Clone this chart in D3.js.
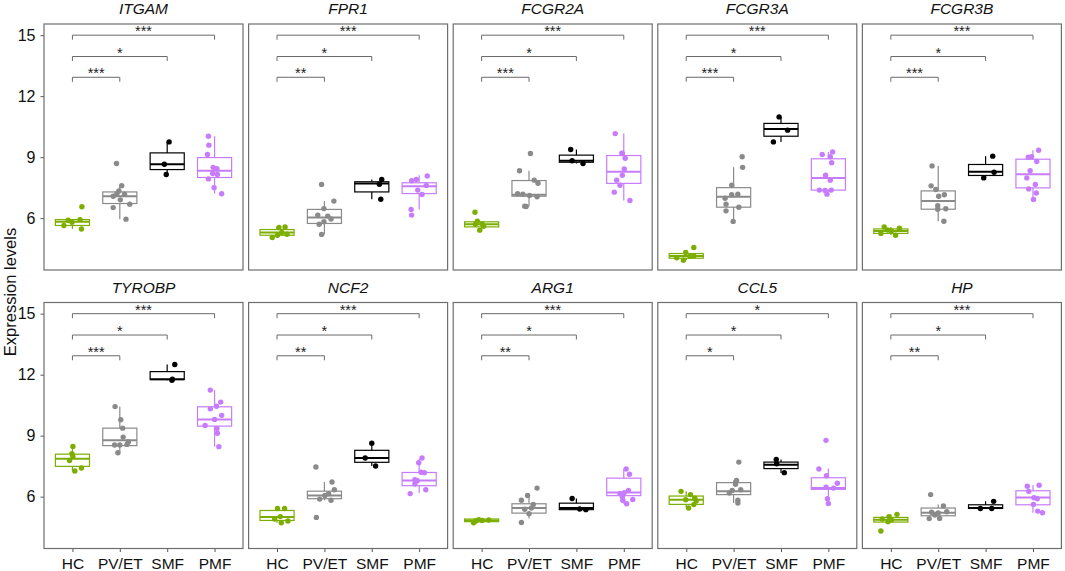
<!DOCTYPE html>
<html><head><meta charset="utf-8">
<script src="https://cdn.jsdelivr.net/npm/d3@7/dist/d3.min.js"></script>
<style>body{margin:0;background:#fff}svg{display:block}text{font-family:"Liberation Sans",Arial,Helvetica,sans-serif}</style>
</head><body>
<svg id="chart" width="1065" height="571"></svg>
<script>
// ---------- data ----------
const genes = ["ITGAM","FPR1","FCGR2A","FCGR3A","FCGR3B","TYROBP","NCF2","ARG1","CCL5","HP"];
const groups = ["HC","PV/ET","SMF","PMF"];
const yTicks = [6, 9, 12, 15];
const comparisons = [["HC","PV/ET"],["HC","SMF"],["HC","PMF"]];
const bracketLevels = [12.93, 13.95, 15.0];

// box stats per group: [whisker low, q1, median, q3, whisker high]
const box_ITGAM  = [[5.47,5.64,5.82,5.93,5.93],[5.95,6.72,7.08,7.29,7.6],[8.15,8.39,8.65,9.21,9.75],[7.2,8.0,8.33,8.98,10.03]];
const box_FPR1   = [[5.05,5.16,5.29,5.44,5.57],[5.2,5.74,6.03,6.43,6.84],[6.93,7.29,7.7,7.79,7.9],[6.43,7.21,7.57,7.74,8.11]];
const box_FCGR2A = [[5.41,5.57,5.70,5.82,5.85],[6.59,7.08,7.15,7.85,8.33],[8.69,8.75,8.82,9.1,9.38],[6.87,7.71,8.28,9.08,10.16]];
const box_FCGR3A = [[3.93,4.03,4.14,4.26,4.31],[5.84,6.54,7.05,7.5,8.5],[9.75,10.03,10.38,10.66,10.98],[7.16,7.38,7.98,8.92,9.26]];
const box_FCGR3B = [[5.16,5.25,5.37,5.47,5.57],[5.85,6.44,6.84,7.34,8.57],[7.98,8.1,8.28,8.64,9.05],[6.92,7.49,8.16,8.9,9.34]];
const box_TYROBP = [[7.26,7.49,7.87,8.09,8.47],[8.16,8.51,8.77,9.37,10.43],[11.72,11.76,11.78,12.15,12.5],[8.46,9.47,9.8,10.42,11.24]];
const box_NCF2   = [[4.72,4.83,5.0,5.32,5.42],[5.82,5.9,6.06,6.27,6.72],[7.51,7.69,7.9,8.28,8.63],[6.18,6.54,6.8,7.19,7.87]];
const box_ARG1   = [[4.72,4.77,4.83,4.9,4.92],[4.92,5.19,5.44,5.65,6.06],[5.36,5.36,5.44,5.68,5.91],[5.65,6.05,6.21,6.91,7.36]];
const box_CCL5   = [[5.44,5.62,5.85,6.03,6.26],[5.69,6.1,6.26,6.69,6.8],[7.16,7.38,7.57,7.7,7.83],[5.66,6.36,6.42,6.93,7.38]];
const box_HP     = [[4.75,4.75,4.87,4.98,5.13],[4.92,5.06,5.21,5.44,5.62],[5.42,5.42,5.44,5.6,5.77],[5.21,5.6,5.96,6.29,6.56]];

// jittered points per group: [horizontal jitter (category units), value]
const pts_ITGAM = [
  [[0.2,6.56],[-0.09,5.90],[0.16,5.93],[-0.18,5.64],[0.19,5.47],[-0.01,5.80]],
  [[-0.07,8.69],[0.04,7.6],[-0.02,7.34],[-0.06,7.21],[0.1,7.18],[-0.14,7.08],[0.21,6.69],[-0.14,6.52],[0.13,5.95],[0.01,6.9]],
  [[0.04,9.75],[-0.06,8.65],[-0.02,8.15]],
  [[-0.13,10.03],[-0.12,9.59],[-0.15,9.13],[-0.03,8.5],[0.05,8.43],[-0.04,8.2],[0.06,8.15],[-0.13,7.93],[-0.01,7.5],[0.15,7.2]]];
const pts_FPR1 = [
  [[0.04,5.54],[0.17,5.57],[-0.1,5.05],[0.01,5.16],[0.21,5.21],[0.1,5.3]],
  [[-0.06,7.66],[0.2,6.84],[-0.01,6.47],[-0.14,6.15],[0.14,5.96],[-0.01,5.82],[-0.11,5.7],[-0.06,5.2],[0.07,6.1]],
  [[0.21,7.9],[0.16,7.67],[0.19,6.93]],
  [[0.17,8.07],[-0.06,7.9],[-0.16,7.84],[0.15,7.61],[-0.03,7.38],[0.06,7.16],[-0.17,6.43],[-0.16,6.15]]];
const pts_FCGR2A = [
  [[-0.14,6.29],[-0.09,5.85],[-0.13,5.7],[0.04,5.6],[-0.04,5.41],[0.01,5.72]],
  [[0.03,9.18],[-0.2,8.33],[0.11,7.87],[0.19,7.72],[-0.13,7.18],[0.17,7.05],[0.01,7.12],[-0.09,6.59],[-0.06,6.57],[-0.24,7.2]],
  [[-0.12,9.38],[-0.09,8.82],[0.14,8.69]],
  [[-0.18,10.16],[-0.04,9.2],[-0.03,9.18],[0.03,8.95],[0.01,8.42],[-0.03,8.11],[-0.15,7.87],[-0.08,7.62],[-0.2,7.28],[0.13,6.87]]];
const pts_FCGR3A = [
  [[0.16,4.56],[-0.01,4.31],[0.16,4.14],[-0.2,4.05],[-0.06,3.93],[0.08,4.12]],
  [[0.18,9.02],[0.19,8.5],[-0.04,7.62],[0.09,7.18],[-0.04,7.15],[-0.18,6.98],[-0.16,6.69],[0.11,6.54],[-0.16,6.36],[-0.01,5.84]],
  [[-0.04,10.98],[0.14,10.33],[-0.16,9.75]],
  [[0.09,9.26],[0.04,9.02],[-0.13,9.13],[0.07,8.73],[-0.06,8.11],[0.04,7.87],[-0.19,7.38],[-0.07,7.36],[0.06,7.38],[-0.03,7.18]]];
const pts_FCGR3B = [
  [[-0.14,5.57],[0.18,5.5],[-0.07,5.42],[0.01,5.37],[-0.21,5.25],[0.1,5.16]],
  [[-0.13,8.57],[-0.15,7.59],[-0.05,7.41],[0.01,7.08],[0.13,7.15],[-0.01,6.61],[0.16,6.46],[-0.01,6.44],[0.12,5.85]],
  [[0.15,9.05],[0.18,8.26],[-0.04,7.98]],
  [[0.12,9.34],[-0.1,9.0],[-0.03,9.02],[0.08,8.79],[-0.06,8.33],[-0.13,7.98],[0.05,7.66],[-0.09,7.44],[0.07,7.24],[0.01,6.92]]];
const pts_TYROBP = [
  [[0.01,8.47],[-0.01,8.11],[0.01,7.98],[-0.06,7.78],[0.19,7.41],[0.05,7.26]],
  [[-0.1,10.43],[0.02,9.78],[0.06,9.37],[0.07,8.93],[0.18,8.69],[-0.11,8.54],[0.0,8.54],[0.15,8.57],[-0.04,8.16]],
  [[0.16,12.5],[0.1,11.72],[0.11,11.78]],
  [[-0.09,11.24],[0.13,10.65],[0.04,10.45],[-0.09,10.32],[0.15,10.0],[-0.2,9.5],[0.05,9.35],[0.06,9.12],[0.09,8.46],[0.0,9.8]]];
const pts_NCF2 = [
  [[0.01,5.42],[0.16,5.42],[-0.05,4.9],[0.09,4.72],[0.23,4.8],[0.07,5.02]],
  [[-0.18,7.46],[0.16,6.72],[0.21,6.34],[0.09,6.14],[-0.1,5.88],[0.14,5.82],[-0.17,4.98],[0.01,6.06]],
  [[0.0,8.63],[-0.14,7.9],[0.08,7.51]],
  [[0.06,7.9],[-0.01,7.67],[0.04,7.2],[0.11,7.18],[-0.09,6.84],[-0.04,6.78],[-0.09,6.62],[0.14,6.34],[-0.19,6.15]]];
const pts_ARG1 = [
  [[-0.17,4.72],[-0.06,4.87],[0.15,4.85],[0.01,4.83],[-0.12,4.8]],
  [[0.17,6.42],[-0.03,6.06],[-0.16,5.82],[0.09,5.62],[0.05,5.44],[-0.09,5.38],[0.0,5.16],[-0.16,4.73]],
  [[-0.09,5.91],[0.07,5.39],[0.2,5.36]],
  [[0.05,7.36],[0.12,7.1],[0.1,6.31],[0.01,6.2],[-0.08,6.15],[-0.03,6.0],[-0.02,5.82],[0.19,5.86],[0.06,5.65]]];
const pts_CCL5 = [
  [[-0.11,6.26],[0.09,6.1],[0.18,5.92],[0.21,5.79],[0.16,5.61],[0.05,5.44],[-0.01,5.85]],
  [[0.11,7.7],[0.06,6.8],[0.04,6.61],[0.15,6.34],[-0.09,6.18],[0.09,5.82],[0.09,5.69],[-0.03,6.3]],
  [[-0.1,7.83],[-0.09,7.62],[0.07,7.18]],
  [[-0.05,8.77],[-0.2,7.36],[-0.04,7.03],[0.19,6.66],[-0.05,6.46],[0.11,6.42],[-0.02,5.9],[0.0,5.66]]];
const pts_HP = [
  [[0.13,5.13],[-0.04,5.02],[-0.18,4.9],[-0.06,4.77],[-0.21,4.31],[0.01,4.85]],
  [[-0.16,6.1],[0.11,5.54],[0.18,5.26],[-0.14,5.23],[0.0,5.2],[-0.19,4.92],[0.03,4.93],[-0.07,5.1]],
  [[0.17,5.77],[-0.11,5.42],[0.13,5.42]],
  [[-0.12,6.51],[0.13,6.56],[-0.09,6.26],[0.02,5.95],[0.09,5.9],[0.01,5.62],[0.1,5.29],[0.2,5.21]]];

// significance labels for comparisons (HC vs PV/ET, HC vs SMF, HC vs PMF)
const sig_ITGAM  = ["***","*","***"];
const sig_FPR1   = ["**","*","***"];
const sig_FCGR2A = ["***","*","***"];
const sig_FCGR3A = ["***","*","***"];
const sig_FCGR3B = ["***","*","***"];
const sig_TYROBP = ["***","*","***"];
const sig_NCF2   = ["**","*","***"];
const sig_ARG1   = ["**","*","***"];
const sig_CCL5   = ["*","*","*"];
const sig_HP     = ["**","*","***"];

const boxes = {ITGAM:box_ITGAM,FPR1:box_FPR1,FCGR2A:box_FCGR2A,FCGR3A:box_FCGR3A,FCGR3B:box_FCGR3B,TYROBP:box_TYROBP,NCF2:box_NCF2,ARG1:box_ARG1,CCL5:box_CCL5,HP:box_HP};
const points = {ITGAM:pts_ITGAM,FPR1:pts_FPR1,FCGR2A:pts_FCGR2A,FCGR3A:pts_FCGR3A,FCGR3B:pts_FCGR3B,TYROBP:pts_TYROBP,NCF2:pts_NCF2,ARG1:pts_ARG1,CCL5:pts_CCL5,HP:pts_HP};
const sigs = {ITGAM:sig_ITGAM,FPR1:sig_FPR1,FCGR2A:sig_FCGR2A,FCGR3A:sig_FCGR3A,FCGR3B:sig_FCGR3B,TYROBP:sig_TYROBP,NCF2:sig_NCF2,ARG1:sig_ARG1,CCL5:sig_CCL5,HP:sig_HP};

// ---------- style / layout ----------
const colors = ["#7CAE00","#8a8a8a","#000000","#C77CFF"];
const panelW = 199, panelH = 246, panelStep = 204.6, left0 = 44;
const rowTops = [24, 302.5];
const yDomain = [3.45, 15.55];

const svg = d3.select("#chart");
svg.append("rect").attr("width",1065).attr("height",571).attr("fill","#fff");

genes.forEach((gene, gi) => {
  const col = gi % 5, row = Math.floor(gi / 5);
  const left = left0 + col * panelStep, top = rowTops[row];
  const x = d3.scalePoint().domain(groups).range([left, left + panelW]).padding(0.6);
  const y = d3.scaleLinear().domain(yDomain).range([top + panelH, top]);
  const step = x.step();
  const g = svg.append("g");

  // title
  g.append("text").attr("x", left + panelW/2).attr("y", top - 10)
    .attr("text-anchor","middle").attr("font-size","15.5px").attr("font-style","italic")
    .attr("fill","#111").text(gene);

  // axes
  if (col === 0) {
    const ay = g.append("g").attr("transform",`translate(${left},0)`)
      .call(d3.axisLeft(y).tickValues(yTicks).tickSize(3.5).tickPadding(5).tickFormat(d3.format("d")));
    ay.select(".domain").remove();
    ay.selectAll("line").attr("stroke","#555");
    ay.selectAll("text").attr("font-size","16px").attr("fill","#111").style("font-family",'"Liberation Sans",Arial,sans-serif');
  }
  if (row === 1) {
    const ax = g.append("g").attr("transform",`translate(0,${top + panelH})`)
      .call(d3.axisBottom(x).tickSize(3.5).tickPadding(6));
    ax.select(".domain").remove();
    ax.selectAll("line").attr("stroke","#555");
    ax.selectAll("text").attr("font-size","15.5px").attr("fill","#111").style("font-family",'"Liberation Sans",Arial,sans-serif');
  }

  // boxes
  const bw = step * 0.72;
  boxes[gene].forEach((s, k) => {
    const cx = x(groups[k]);
    const c = colors[k];
    const [lo, q1, med, q3, hi] = s;
    g.append("line").attr("x1",cx).attr("x2",cx).attr("y1",y(hi)).attr("y2",y(q3)).attr("stroke",c).attr("stroke-width",1.2);
    g.append("line").attr("x1",cx).attr("x2",cx).attr("y1",y(q1)).attr("y2",y(lo)).attr("stroke",c).attr("stroke-width",1.2);
    g.append("rect").attr("x",cx - bw/2).attr("width",bw).attr("y",y(q3)).attr("height",Math.max(0.5, y(q1)-y(q3)))
      .attr("fill","none").attr("stroke",c).attr("stroke-width",1.2);
    g.append("line").attr("x1",cx - bw/2).attr("x2",cx + bw/2).attr("y1",y(med)).attr("y2",y(med)).attr("stroke",c).attr("stroke-width",2);
  });

  // points
  points[gene].forEach((arr, k) => {
    g.selectAll(null).data(arr).enter().append("circle")
      .attr("cx", d => x(groups[k]) + d[0]*step)
      .attr("cy", d => y(d[1]))
      .attr("r", 2.7)
      .attr("fill", colors[k]);
  });

  // significance brackets
  const tip = 4.5;
  comparisons.forEach((cmp, ci) => {
    const x1 = x(cmp[0]), x2 = x(cmp[1]), yy = y(bracketLevels[ci]);
    g.append("path").attr("d", `M${x1},${yy+tip}V${yy}H${x2}V${yy+tip}`)
      .attr("fill","none").attr("stroke","#6a6a6a").attr("stroke-width",1);
    g.append("text").attr("x",(x1+x2)/2).attr("y", yy + 1).attr("text-anchor","middle")
      .attr("font-size","14.5px").attr("fill","#222").text(sigs[gene][ci]);
  });

  // frame
  g.append("rect").attr("x",left).attr("y",top).attr("width",panelW).attr("height",panelH)
    .attr("fill","none").attr("stroke","#6e6e6e").attr("stroke-width",1.2);
});

// y axis title
svg.append("text").attr("transform","translate(15.5,292) rotate(-90)")
  .attr("text-anchor","middle").attr("font-size","16.5px").attr("fill","#111").text("Expression levels");
</script>
</body></html>
